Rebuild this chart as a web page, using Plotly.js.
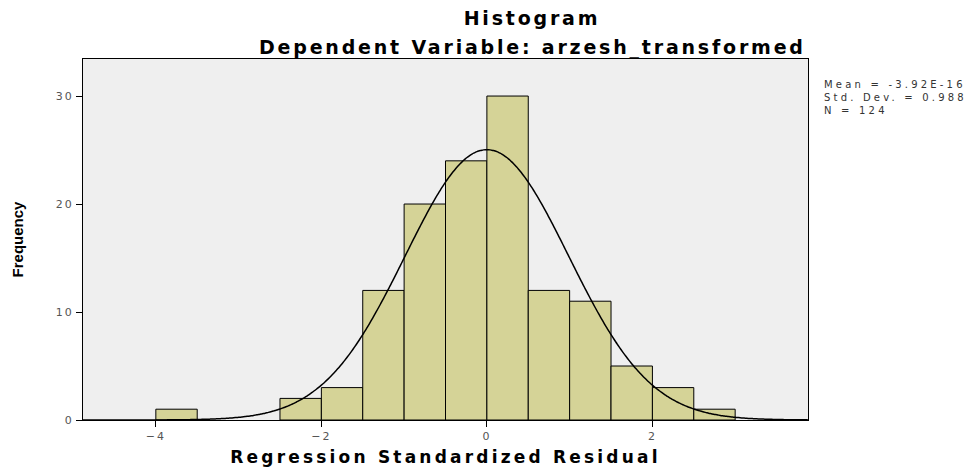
<!DOCTYPE html>
<html><head><meta charset="utf-8">
<script src="https://cdn.plot.ly/plotly-3.0.1.min.js"></script>
<style>
html,body{margin:0;padding:0;background:#fff;}
#chart{width:974px;height:468px;}
.xtick text, .ytick text {letter-spacing:2px;}
</style></head><body><div id="chart"></div>
<script>
// ---- data ----
const binLeft = [-4.0, -2.5, -2.0, -1.5, -1.0, -0.5, 0.0, 0.5, 1.0, 1.5, 2.0, 2.5];
const counts  = [1, 2, 3, 12, 20, 24, 30, 12, 11, 5, 3, 1];
const binWidth = 0.5;
const meanVal = -3.92e-16;
const sdVal = 0.988;
const nVal = 124;
const statLines = ["Mean = -3.92E-16", "Std. Dev. = 0.988", "N = 124"];
const xTickVals = [-4, -2, 0, 2];
const yTickVals = [0, 10, 20, 30];
const chartTitle = "Histogram";
const chartSubtitle = "Dependent Variable: arzesh_transformed";
const xTitle = "Regression Standardized Residual";
const yTitle = "Frequency";

// ---- fitted normal curve (from mean, sd, N and bin width shown) ----
const xRange = [-4.88, 3.88];
const curveX = [], curveY = [];
for (let x = xRange[0]; x <= xRange[1] + 1e-9; x += 0.02) {
  const z = (x - meanVal) / sdVal;
  curveX.push(x);
  curveY.push(nVal * binWidth * Math.exp(-0.5 * z * z) / (sdVal * Math.sqrt(2 * Math.PI)));
}

const sp = (t, px) => `<span style="letter-spacing:${px}px">${t}</span>`;

const bars = {
  type: 'bar', x: binLeft, y: counts, width: binWidth, offset: 0,
  marker: {color: '#d5d397', line: {color: '#000', width: 1}},
  hoverinfo: 'x+y', showlegend: false
};
const curve = {
  type: 'scatter', mode: 'lines', x: curveX, y: curveY,
  line: {color: '#000', width: 1.5, shape: 'spline'},
  hoverinfo: 'skip', showlegend: false
};

const plotTop = 59, plotBottom = 420, plotLeft = 83, plotRight = 808;
const annotations = [{
  text: statLines.map(s => sp(s, 3.2)).join('<br>'), xref: 'paper', yref: 'paper',
  x: (822 - plotLeft) / (plotRight - plotLeft),
  y: (plotBottom - 97) / (plotBottom - plotTop),
  xanchor: 'left', yanchor: 'middle', align: 'left', showarrow: false,
  font: {family: 'DejaVu Sans', size: 10, color: '#333'}
}, {
  text: sp(chartSubtitle, 2.8), xref: 'paper', yref: 'paper',
  x: (532 - plotLeft) / (plotRight - plotLeft),
  y: (plotBottom - 47) / (plotBottom - plotTop),
  xanchor: 'center', yanchor: 'middle', showarrow: false,
  font: {family: 'DejaVu Sans', size: 19, color: '#000', weight: 700}
}];

const layout = {
  width: 974, height: 468,
  margin: {l: plotLeft, r: 974 - plotRight, t: plotTop, b: 468 - plotBottom},
  paper_bgcolor: '#ffffff', plot_bgcolor: '#efefef',
  font: {family: 'DejaVu Sans', size: 11, color: '#555'},
  title: {
    text: sp(chartTitle, 2.8), x: 532 / 974, xref: 'container', xanchor: 'center',
    y: 1 - 18 / 468, yref: 'container', yanchor: 'middle',
    font: {family: 'DejaVu Sans', size: 19, color: '#000', weight: 700}
  },
  bargap: 0,
  xaxis: {
    range: xRange, tickvals: xTickVals, ticks: 'outside', ticklen: 6, tickcolor: '#000',
    showgrid: false, zeroline: false, showline: true, linecolor: '#000', linewidth: 1, mirror: true,
    tickfont: {family: 'DejaVu Sans', size: 11, color: '#555'},
    title: {text: sp(xTitle, 3.2), standoff: 8, font: {family: 'DejaVu Sans', size: 17, color: '#000', weight: 700}}
  },
  yaxis: {
    range: [0, 33.43], tickvals: yTickVals, ticks: 'outside', ticklen: 6, tickcolor: '#000',
    showgrid: false, zeroline: false, showline: true, linecolor: '#000', linewidth: 1, mirror: true,
    tickfont: {family: 'DejaVu Sans', size: 11, color: '#555'},
    title: {text: yTitle, standoff: 28, font: {family: 'Liberation Sans', size: 15, color: '#000', weight: 700}}
  },
  annotations: annotations
};

Plotly.newPlot('chart', [bars, curve], layout, {displayModeBar: false, staticPlot: true});
</script></body></html>
